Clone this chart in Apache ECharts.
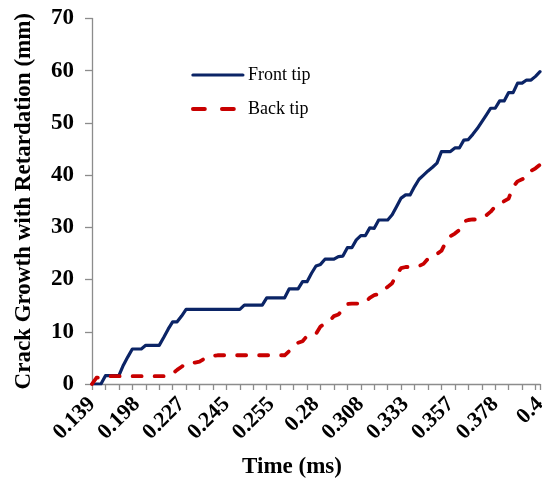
<!DOCTYPE html>
<html>
<head>
<meta charset="utf-8">
<script src="https://cdn.jsdelivr.net/npm/echarts@6/dist/echarts.min.js"></script>
<style>html,body{margin:0;padding:0;background:#fff}#c{width:542px;height:478px}</style>
</head>
<body>
<div id="c"></div>
<script>
// tick labels shown every 10th category
const tickLabels = ['0.139','0.198','0.227','0.245','0.255','0.28','0.308','0.333','0.357','0.378','0.4'];
// category index (101 time samples)
const categories = Array.from({length: 101}, (_, i) => String(i));
const frontTip = [
  0, 0, 0, 1.6, 1.6, 1.6, 1.6, 3.6, 5.2, 6.7,
  6.7, 6.7, 7.4, 7.4, 7.4, 7.4, 8.9, 10.5, 11.9, 11.9,
  13.0, 14.3, 14.3, 14.3, 14.3, 14.3, 14.3, 14.3, 14.3, 14.3,
  14.3, 14.3, 14.3, 14.3, 15.1, 15.1, 15.1, 15.1, 15.1, 16.5,
  16.5, 16.5, 16.5, 16.5, 18.2, 18.2, 18.2, 19.6, 19.6, 21.2,
  22.6, 22.9, 23.9, 23.9, 23.9, 24.4, 24.5, 26.1, 26.1, 27.6,
  28.4, 28.4, 29.9, 29.8, 31.4, 31.4, 31.4, 32.4, 34.0, 35.6,
  36.2, 36.2, 37.8, 39.2, 40.0, 40.8, 41.5, 42.3, 44.5, 44.5,
  44.5, 45.2, 45.2, 46.7, 46.8, 47.8, 48.9, 50.2, 51.5, 52.8,
  52.8, 54.2, 54.2, 55.8, 55.8, 57.6, 57.6, 58.2, 58.2, 58.9,
  59.8
];
const backTip = [
  0, 1.2, 1.3, 1.5, 1.5, 1.5, 1.5, 1.5, 1.5, 1.5,
  1.5, 1.5, 1.5, 1.5, 1.5, 1.5, 1.5, 1.5, 2.0, 2.7,
  3.3, 3.9, 4.0, 4.1, 4.3, 4.8, 5.2, 5.4, 5.5, 5.5,
  5.5, 5.5, 5.5, 5.5, 5.5, 5.5, 5.5, 5.5, 5.5, 5.5,
  5.5, 5.5, 5.5, 5.5, 6.3, 7.2, 7.9, 8.2, 9.2, 9.4,
  9.6, 11.0, 11.6, 12.0, 13.0, 13.3, 14.3, 15.3, 15.4, 15.4,
  15.4, 15.6, 16.5, 17.0, 17.2, 18.0, 18.6, 19.3, 21.0, 22.2,
  22.4, 22.4, 22.5, 22.6, 23.0, 24.0, 24.6, 24.9, 25.5, 27.2,
  28.3, 28.8, 29.5, 31.1, 31.4, 31.5, 31.5, 31.8, 32.3, 33.0,
  34.0, 34.5, 35.0, 35.5, 37.8, 38.8, 39.2, 39.6, 40.8, 41.3,
  42.0
];
const yTicks = {min: 0, max: 70, interval: 10};

const serif = "'Times New Roman', 'Liberation Serif', serif";
const chart = echarts.init(document.getElementById('c'), null, {renderer: 'canvas'});
chart.setOption({
  animation: false,
  backgroundColor: '#ffffff',
  grid: {left: 92, right: 2, top: 18.4, bottom: 94, containLabel: false, outerBoundsMode: 'none'},
  legend: {
    orient: 'vertical',
    left: 186,
    top: 61,
    itemWidth: 50,
    itemHeight: 18,
    itemGap: 16,
    itemStyle: {opacity: 0},
    textStyle: {fontFamily: serif, fontSize: 18, color: '#000'},
    data: [
      {name: 'Front tip', lineStyle: {width: 3.2, opacity: 1}},
      {name: 'Back tip', lineStyle: {width: 3.8, type: [12, 17], cap: 'round', opacity: 1}}
    ]
  },
  xAxis: {
    type: 'category',
    data: categories,
    boundaryGap: false,
    name: 'Time (ms)',
    nameLocation: 'middle',
    nameGap: 72,
    nameTextStyle: {fontFamily: serif, fontSize: 23, fontWeight: 'bold', color: '#000', padding: [0, 48, 0, 0]},
    axisLine: {lineStyle: {color: '#8c8c8c', width: 1.3}},
    axisTick: {show: true, interval: 2, length: 6, lineStyle: {color: '#8c8c8c', width: 1.3}},
    axisLabel: {
      interval: 9,
      rotate: 45,
      margin: 17,
      fontFamily: serif,
      fontSize: 22,
      fontWeight: 'bold',
      color: '#000',
      showMaxLabel: true,
      formatter: (v, idx) => (idx % 10 === 0 ? tickLabels[idx / 10] : '')
    },
    splitLine: {show: false}
  },
  yAxis: {
    type: 'value',
    min: yTicks.min,
    max: yTicks.max,
    interval: yTicks.interval,
    name: 'Crack Growth with Retardation (mm)',
    nameLocation: 'middle',
    nameGap: 56,
    nameTextStyle: {fontFamily: serif, fontSize: 23, fontWeight: 'bold', color: '#000'},
    axisLine: {show: true, lineStyle: {color: '#8c8c8c', width: 1.3}},
    axisTick: {show: true, length: 7, lineStyle: {color: '#8c8c8c', width: 1.3}},
    axisLabel: {margin: 18, fontFamily: serif, fontSize: 23, fontWeight: 'bold', color: '#000'},
    splitLine: {show: false}
  },
  series: [
    {
      name: 'Front tip',
      type: 'line',
      data: frontTip,
      symbol: 'none',
      lineStyle: {color: '#0b2466', width: 3.2, join: 'round', cap: 'round'},
      itemStyle: {color: '#0b2466'}
    },
    {
      name: 'Back tip',
      type: 'line',
      data: backTip,
      symbol: 'none',
      lineStyle: {color: '#c80000', width: 3.8, type: [9, 13], cap: 'round', join: 'round'},
      itemStyle: {color: '#c80000'}
    }
  ]
});
</script>
</body>
</html>
